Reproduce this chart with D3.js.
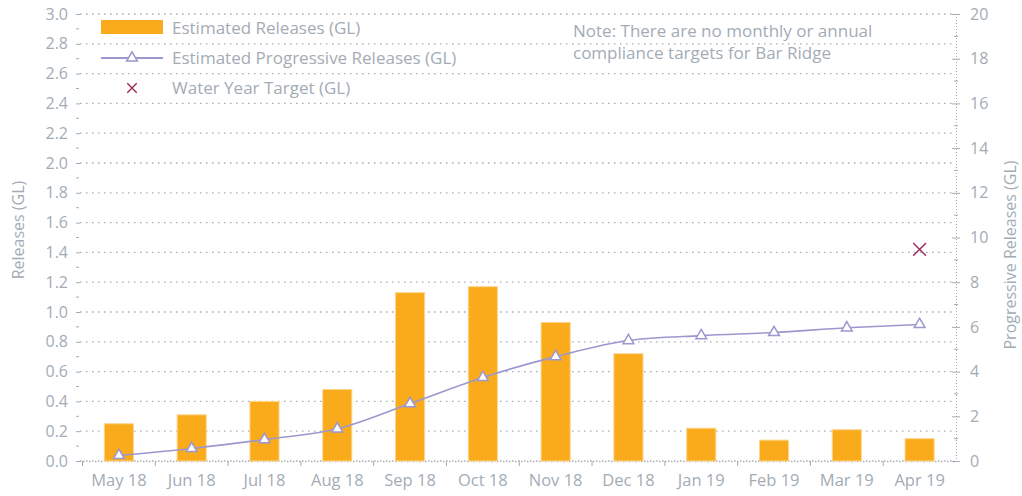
<!DOCTYPE html>
<html>
<head>
<meta charset="utf-8">
<script src="https://cdn.jsdelivr.net/npm/d3@7"></script>
<style>
  body { margin: 0; background: #fff; }
  svg text { font-family: "Open Sans", sans-serif; fill: #a3acb5; }
</style>
</head>
<body>
<svg id="chart" width="1022" height="496"></svg>
<script>
// data
var months = ["May 18", "Jun 18", "Jul 18", "Aug 18", "Sep 18", "Oct 18", "Nov 18", "Dec 18", "Jan 19", "Feb 19", "Mar 19", "Apr 19"];
var releases = [0.25, 0.31, 0.40, 0.48, 1.13, 1.17, 0.93, 0.72, 0.22, 0.14, 0.21, 0.15];
var progressive = [0.25, 0.56, 0.96, 1.44, 2.57, 3.74, 4.67, 5.39, 5.61, 5.75, 5.96, 6.11];
var target = [{ month: "Apr 19", value: 9.47 }];
var leftTicks = d3.range(0, 3.01, 0.2);
var rightTicks = d3.range(0, 21, 2);

(function() {
var svg = d3.select("#chart");
var mLeft = 80, mRight = 956, mTop = 14, mBottom = 461;
var grey = "#a3acb5", orange = "#f9ab1c", lilac = "#9b98cf", wine = "#9e2a5c";
var fs = 16, fsLegend = 17;

var x = d3.scaleBand().domain(months).range([82.5, mRight]).paddingInner(0.6).paddingOuter(0.3);
var yL = d3.scaleLinear().domain([0, 3]).range([mBottom, mTop]);
var yR = d3.scaleLinear().domain([0, 20]).range([mBottom, mTop]);

// gridlines
svg.append("g").selectAll("line").data(leftTicks).enter().append("line")
  .attr("x1", mLeft).attr("x2", mRight)
  .attr("y1", function(d) { return yL(d); }).attr("y2", function(d) { return yL(d); })
  .attr("stroke", grey).attr("stroke-width", 1.3).attr("stroke-dasharray", "1.5,4.5");

// left axis
var gl = svg.append("g").attr("transform", "translate(" + mLeft + ",0)")
  .call(d3.axisLeft(yL).tickValues(leftTicks).tickFormat(d3.format(".1f")).tickSize(4).tickPadding(8));
gl.select(".domain").remove();
gl.selectAll("line").attr("stroke", grey);
gl.selectAll("text").attr("font-size", fs).attr("fill", grey);
svg.append("g").selectAll("line").data(d3.range(0.1, 3, 0.2)).enter().append("line")
  .attr("x1", mLeft - 4).attr("x2", mLeft - 1)
  .attr("y1", function(d) { return yL(d); }).attr("y2", function(d) { return yL(d); })
  .attr("stroke", grey);

// right axis
var gr = svg.append("g").attr("transform", "translate(" + mRight + ",0)")
  .call(d3.axisRight(yR).tickValues(rightTicks).tickSize(4).tickPadding(10));
gr.select(".domain").attr("stroke", grey).attr("stroke-dasharray", "1,2");
gr.selectAll(".tick line").attr("stroke", grey).attr("x1", -4);
gr.selectAll("text").attr("font-size", fs).attr("fill", grey);
svg.append("g").selectAll("line").data(d3.range(1, 20, 2)).enter().append("line")
  .attr("x1", mRight - 2).attr("x2", mRight + 2)
  .attr("y1", function(d) { return yR(d); }).attr("y2", function(d) { return yR(d); })
  .attr("stroke", grey);

// bottom axis
var gx = svg.append("g").attr("transform", "translate(0," + mBottom + ")")
  .call(d3.axisBottom(x).tickSize(0).tickPadding(13));
gx.select(".domain").attr("stroke", grey).attr("stroke-dasharray", "1.5,4.5").attr("stroke-width", 1.3);
gx.selectAll("text").attr("font-size", fs + 0.5).attr("fill", grey);
var step = x.step();
svg.append("g").selectAll("line").data(months).enter().append("line")
  .attr("x1", function(d) { return x(d) + x.bandwidth() / 2 - step / 2; })
  .attr("x2", function(d) { return x(d) + x.bandwidth() / 2 - step / 2; })
  .attr("y1", mBottom).attr("y2", mBottom + 5)
  .attr("stroke", grey);

// bars
svg.append("g").selectAll("rect").data(releases).enter().append("rect")
  .attr("x", function(d, i) { return x(months[i]); })
  .attr("width", x.bandwidth())
  .attr("y", function(d) { return yL(d); })
  .attr("height", function(d) { return mBottom - yL(d); })
  .attr("fill", orange).attr("stroke", "#fcd68c").attr("stroke-width", 1);

// progressive line
var cx = function(m) { return x(m) + x.bandwidth() / 2; };
var line = d3.line().curve(d3.curveMonotoneX)
  .x(function(d, i) { return cx(months[i]); })
  .y(function(d) { return yR(d); });
svg.append("path").datum(progressive).attr("d", line)
  .attr("fill", "none").attr("stroke", lilac).attr("stroke-width", 1.6);
var tri = d3.symbol().type(d3.symbolTriangle).size(50);
svg.append("g").selectAll("path").data(progressive).enter().append("path")
  .attr("d", tri)
  .attr("transform", function(d, i) { return "translate(" + cx(months[i]) + "," + yR(d) + ")"; })
  .attr("fill", "#fff").attr("stroke", lilac).attr("stroke-width", 1.5);

// target
var cross = d3.symbol().type(d3.symbolX).size(110);
svg.append("g").selectAll("path").data(target).enter().append("path")
  .attr("d", cross)
  .attr("transform", function(d) { return "translate(" + cx(d.month) + "," + yR(d.value) + ")"; })
  .attr("fill", "none").attr("stroke", wine).attr("stroke-width", 1.4);

// axis titles
svg.append("text").attr("transform", "translate(24,230) rotate(-90)")
  .attr("text-anchor", "middle").attr("font-size", fs).text("Releases (GL)");
svg.append("text").attr("transform", "translate(1016,255) rotate(-90)")
  .attr("text-anchor", "middle").attr("font-size", fs).text("Progressive Releases (GL)");

// legend
var lg = svg.append("g").attr("font-size", fsLegend);
lg.append("rect").attr("x", 101).attr("y", 20).attr("width", 62).attr("height", 14).attr("fill", orange);
lg.append("text").attr("x", 172).attr("y", 34).text("Estimated Releases (GL)");
lg.append("line").attr("x1", 101).attr("x2", 163).attr("y1", 58).attr("y2", 58).attr("stroke", lilac).attr("stroke-width", 2);
lg.append("path").attr("d", tri).attr("transform", "translate(132,58)").attr("fill", "#fff").attr("stroke", lilac).attr("stroke-width", 1.5);
lg.append("text").attr("x", 172).attr("y", 64).text("Estimated Progressive Releases (GL)");
lg.append("path").attr("d", d3.symbol().type(d3.symbolX).size(60)).attr("transform", "translate(132,88)")
  .attr("fill", "none").attr("stroke", wine).attr("stroke-width", 1.4);
lg.append("text").attr("x", 172).attr("y", 94).text("Water Year Target (GL)");

// note
svg.append("text").attr("x", 573).attr("y", 37).attr("font-size", fsLegend).text("Note: There are no monthly or annual");
svg.append("text").attr("x", 573).attr("y", 59).attr("font-size", fsLegend).text("compliance targets for Bar Ridge");
})();
</script>
</body>
</html>
